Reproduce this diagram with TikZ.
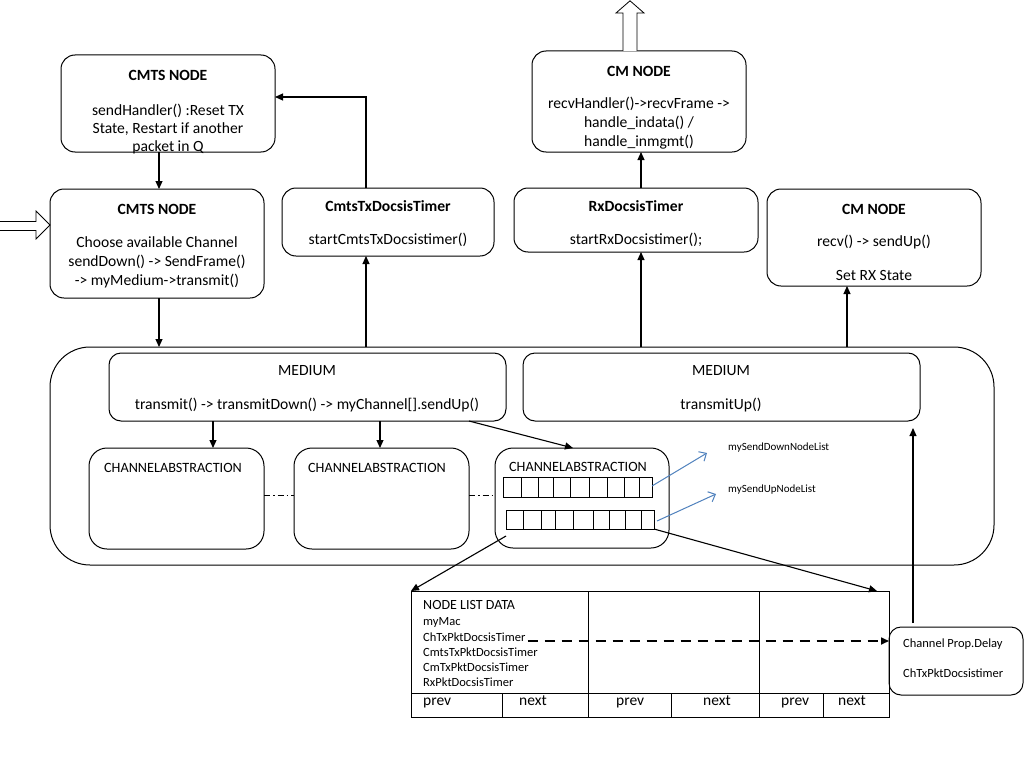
\documentclass[tikz,border=0pt]{standalone}
\usepackage{fontspec}
\setmainfont{Carlito}
\usetikzlibrary{arrows.meta}
\definecolor{myblue}{RGB}{79,129,189}
\begin{document}
\begin{tikzpicture}[x=1pt,y=-1pt,
 box/.style={draw, rounded corners=14pt, line width=1pt, inner sep=0pt, outer sep=0pt},
 plain/.style={draw, line width=1pt, inner sep=0pt, outer sep=0pt},
 arr/.style={-{Triangle[length=8pt,width=7pt]}, line width=1.1pt},
 barr/.style={-{Straight Barb[length=6pt,width=11pt]}, line width=1pt, draw=myblue},
 dsharr/.style={-{Triangle[length=8pt,width=7pt]}, line width=1.6pt, dash pattern=on 10pt off 7pt},
 dashdotline/.style={line width=0.8pt, dash pattern=on 6pt off 3pt on 1.5pt off 3pt},
 hollow/.style={draw, fill=white, line width=0.8pt},
 txt/.style={inner sep=0pt, font=\fontsize{15.6}{19}\selectfont, align=center},
 ttl/.style={inner sep=0pt, font=\fontsize{15.6}{19}\selectfont\bfseries},
 catxt/.style={inner sep=0pt, font=\fontsize{14.2}{17}\selectfont},
 small/.style={inner sep=0pt, font=\fontsize{12.5}{15}\selectfont, anchor=west},
 tiny/.style={inner sep=0pt, font=\fontsize{11}{13}\selectfont, anchor=west},
 pn/.style={inner sep=0pt, font=\fontsize{15.5}{18}\selectfont, anchor=base west},
]
\useasboundingbox (0,0) rectangle (1024,768);
\fill[white] (0,0) rectangle (1024,768);

% ---------- boxes ----------
\node[box, minimum width=214pt, minimum height=97pt] (cmts1) at (168,103.5) {};
\node[box, minimum width=214pt, minimum height=109pt] (cmts2) at (157,243.5) {};
\node[box, minimum width=212pt, minimum height=68pt] (ctimer) at (388,222) {};
\node[box, minimum width=214pt, minimum height=101pt] (cm1) at (639,101.5) {};
\node[box, minimum width=244pt, minimum height=64pt] (rxtimer) at (636,220) {};
\node[box, minimum width=214pt, minimum height=97pt] (cm2) at (874,237.5) {};
\node[box, rounded corners=40pt, minimum width=944pt, minimum height=218pt] (outer) at (522,456) {};
\node[box, rounded corners=12pt, minimum width=397pt, minimum height=68pt] (med1) at (307.5,387) {};
\node[box, rounded corners=12pt, minimum width=397pt, minimum height=68pt] (med2) at (721.5,387) {};
\node[box, rounded corners=18pt, minimum width=175pt, minimum height=101pt] (ca1) at (176.5,498.5) {};
\node[box, rounded corners=18pt, minimum width=175pt, minimum height=101pt] (ca2) at (381.5,498.5) {};
\node[box, rounded corners=18pt, minimum width=174pt, minimum height=100pt] (ca3) at (582,498) {};
\node[plain, minimum width=149pt, minimum height=20pt] (arr1) at (577.5,487) {};
\node[plain, minimum width=148pt, minimum height=19pt] (arr2) at (580,519.5) {};
\node[plain, minimum width=478pt, minimum height=126pt] (tbl) at (650,654) {};
\node[box, rounded corners=12pt, minimum width=134pt, minimum height=68pt] (chbox) at (956,661) {};

% array cells
\foreach \d in {521,538,553,570,589,607,624,639} \draw[line width=1pt] (\d,477) -- (\d,497);
\foreach \d in {523,541,555,573,593,609,625,641} \draw[line width=1pt] (\d,510) -- (\d,529);

% table lines
\draw[line width=1pt] (411,693) -- (889,693);
\draw[line width=1pt] (588,591) -- (588,717);
\draw[line width=1pt] (759,591) -- (759,717);
\foreach \d in {502,671,823} \draw[line width=1pt] (\d,693) -- (\d,717);

% ---------- texts ----------
\node[ttl] (t1) at (168,75) {CMTS NODE};
\node[txt, font=\fontsize{15.6}{18}\selectfont] (t1b) at (168,129) {sendHandler() :Reset TX\\State, Restart if another\\packet in Q};
\node[ttl] (t2) at (157,209) {CMTS NODE};
\node[txt] (t2b) at (157,262) {Choose available Channel\\sendDown() -> SendFrame()\\-> myMedium->transmit()};
\node[ttl] (t3) at (388,206) {CmtsTxDocsisTimer};
\node[txt] (t3b) at (388,240) {startCmtsTxDocsistimer()};
\node[ttl] (t4) at (639,71) {CM NODE};
\node[txt] (t4b) at (639,123) {recvHandler()->recvFrame ->\\handle\_indata() /\\handle\_inmgmt()};
\node[ttl] (t5) at (636,206) {RxDocsisTimer};
\node[txt] (t5b) at (636,240) {startRxDocsistimer();};
\node[ttl] (t6) at (874,209) {CM NODE};
\node[txt] (t6b) at (874,242) {recv() -> sendUp()};
\node[txt] (t6c) at (874,275) {Set RX State};
\node[txt] (t7) at (307,371) {MEDIUM};
\node[txt] (t7b) at (307,405) {transmit() -> transmitDown() -> myChannel[].sendUp()};
\node[txt] (t8) at (721,371) {MEDIUM};
\node[txt] (t8b) at (721,405) {transmitUp()};
\node[catxt] (c1) at (173,468) {CHANNELABSTRACTION};
\node[catxt] (c2) at (377,468) {CHANNELABSTRACTION};
\node[catxt] (c3) at (578,467) {CHANNELABSTRACTION};
\node[tiny] (ld) at (728,448) {mySendDownNodeList};
\node[tiny] (lu) at (728,490) {mySendUpNodeList};

\node[inner sep=0pt, font=\fontsize{14}{17}\selectfont, anchor=west] (nl) at (423,605) {NODE LIST DATA};
\node[small] (tmac) at (423,622) {myMac};
\node[small] (tch) at (423,637) {ChTxPktDocsisTimer};
\node[small] (tcmts) at (423,652) {CmtsTxPktDocsisTimer};
\node[small] (tcm) at (423,667) {CmTxPktDocsisTimer};
\node[small] (trx) at (423,682) {RxPktDocsisTimer};
\node[pn] (p1) at (423,705) {prev};
\node[pn] (n1) at (519,705) {next};
\node[pn] (p2) at (616,705) {prev};
\node[pn] (n2) at (703,705) {next};
\node[pn] (p3) at (781,705) {prev};
\node[pn] (n3) at (838,705) {next};
\node[small] (cp) at (903,644) {Channel Prop.Delay};
\node[small] (cpt) at (903,673) {ChTxPktDocsistimer};

% ---------- connectors ----------
\draw[arr] ([xshift=-9pt]cmts1.south) -- ([xshift=-9pt]cmts1.south |- cmts2.north);
\draw[arr] ([xshift=2pt]cmts2.south) -- ([xshift=2pt]cmts2.south |- outer.north);
\draw[arr] ([xshift=-22pt]ctimer.south |- outer.north) -- ([xshift=-22pt]ctimer.south);
\draw[arr] ([xshift=-22pt]ctimer.north) |- ([yshift=6.5pt]cmts1.east);
\draw[arr] ([xshift=5pt]rxtimer.south |- outer.north) -- ([xshift=5pt]rxtimer.south);
\draw[arr] ([xshift=5pt]rxtimer.north) -- ([xshift=5pt]rxtimer.north |- cm1.south);
\draw[arr] ([xshift=-27pt]cm2.south |- outer.north) -- ([xshift=-27pt]cm2.south);
\draw[arr] ([xshift=36.5pt]ca1.north |- med1.south) -- ([xshift=36.5pt]ca1.north);
\draw[arr] ([xshift=-1.5pt]ca2.north |- med1.south) -- ([xshift=-1.5pt]ca2.north);
\draw[arr] ([xshift=161.5pt]med1.south) -- ([xshift=-9pt]ca3.north);
\draw[dashdotline] ([yshift=3.5pt]ca1.east) -- ([yshift=3.5pt]ca1.east -| ca2.west);
\draw[dashdotline] ([yshift=3.5pt]ca2.east) -- ([yshift=3.5pt]ca2.east -| ca3.west);

\coordinate (bd) at (707,453);
\coordinate (bu) at (716,494);
\draw[barr] ([yshift=1pt]arr1.east) -- (bd);
\draw[barr] ([xshift=3pt,yshift=-1.5pt]arr2.east) -- (bu);

\draw[arr] ([yshift=-7pt]arr2.south west) -- (tbl.north west);
\draw[arr] (arr2.south east) -- ([xshift=-12pt]tbl.north east);
\draw[dsharr] ([xshift=2pt,yshift=-4pt]tch.east) -- ([yshift=-4pt]tch.east -| chbox.west);
\coordinate (m2t) at ([yshift=-7pt]med2.south);
\draw[arr] ([xshift=-43pt,yshift=4pt]chbox.north) -- ([xshift=-43pt]chbox.north |- m2t);

% hollow arrows
\draw[hollow] (0,221.5) -- (36,221.5) -- (36,211) -- (50,225) -- (36,239) -- (36,230.5) -- (0,230.5);
\draw[hollow] (623,51) -- (623,13) -- (616,13) -- (630,0.8) -- (644,13) -- (637,13) -- (637,51);
\end{tikzpicture}
\end{document}
